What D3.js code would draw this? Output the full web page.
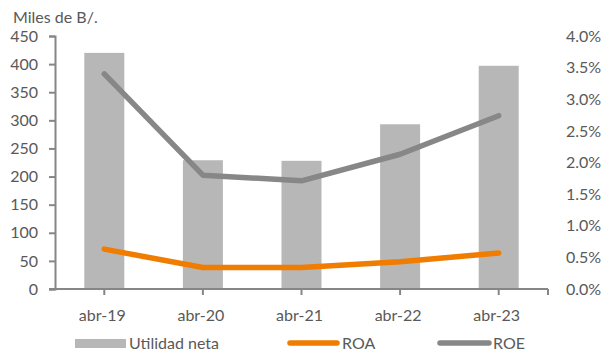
<!DOCTYPE html>
<html><head><meta charset="utf-8">
<script src="https://cdn.jsdelivr.net/npm/d3@7"></script>
<style>
html,body{margin:0;padding:0;background:#fff;}
svg{display:block;font-family:Lato,"Open Sans",sans-serif;}
</style></head>
<body><svg id="c" width="605" height="360"></svg>
<script>
const categories = ["abr-19","abr-20","abr-21","abr-22","abr-23"];
const utilidad = [420, 229, 228, 293, 397];
const roa = [0.0063, 0.0034, 0.0034, 0.0043, 0.0057];
const roe = [0.0340, 0.0180, 0.0171, 0.0213, 0.0274];
const leftTicks = [0,50,100,150,200,250,300,350,400,450];
const rightTicks = [0,0.005,0.01,0.015,0.02,0.025,0.03,0.035,0.04];

const svg = d3.select("#c");
const textColor = "#595959", axisColor = "#868686";
const fs = "16px";
const x0 = 55, x1 = 548, yTop = 36, yBot = 289;
const x = d3.scaleBand().domain(categories).range([x0, x1]).paddingInner(0).paddingOuter(0);
const yL = d3.scaleLinear().domain([0,450]).range([yBot, yTop]);
const yR = d3.scaleLinear().domain([0,0.04]).range([yBot, yTop]);
const barW = 40;

// bars
svg.append("g").selectAll("rect").data(categories).join("rect")
  .attr("x", (d)=> x(d) + x.bandwidth()/2 - barW/2)
  .attr("y", (d,i)=> yL(utilidad[i]))
  .attr("width", barW)
  .attr("height", (d,i)=> yBot - yL(utilidad[i]))
  .attr("fill", "#b7b7b7");

// left axis
const gl = svg.append("g").attr("transform", `translate(${x0},0)`)
  .call(d3.axisLeft(yL).tickValues(leftTicks).tickSize(6).tickPadding(11));
gl.select(".domain").attr("stroke", axisColor).attr("stroke-width", 2);
gl.selectAll(".tick line").attr("stroke", axisColor).attr("stroke-width", 2);
gl.selectAll(".tick text").attr("fill", textColor).style("font-size",fs).style("font-family","Lato");

// right axis (labels only)
const gr = svg.append("g").attr("transform", `translate(${x1+16},0)`)
  .call(d3.axisRight(yR).tickValues(rightTicks).tickSize(0).tickPadding(2).tickFormat(d3.format(".1%")));
gr.select(".domain").remove();
gr.selectAll(".tick text").attr("fill", textColor).style("font-size",fs).style("font-family","Lato");

// x axis
const gx = svg.append("g").attr("transform", `translate(0,${yBot})`);
gx.append("line").attr("x1", x0-6).attr("x2", x1).attr("y1",0).attr("y2",0)
  .attr("stroke", axisColor).attr("stroke-width", 2);
const xTickPos = categories.map(c => x(c) + x.bandwidth()/2).concat([x1]);
gx.selectAll("line.t").data(xTickPos).join("line").attr("class","t")
  .attr("x1", d=>d).attr("x2", d=>d).attr("y1",0).attr("y2",6)
  .attr("stroke", axisColor).attr("stroke-width", 2);
gx.selectAll("text").data(categories).join("text")
  .attr("x", d => x(d) + x.bandwidth()/2 - 2)
  .attr("y", 32)
  .attr("text-anchor","middle")
  .attr("fill", textColor).style("font-size",fs)
  .text(d=>d);

// lines
const lineGen = (arr) => d3.line()
  .x((d,i)=> x(categories[i]) + x.bandwidth()/2)
  .y(d=> yR(d))(arr);
svg.append("path").attr("d", lineGen(roe)).attr("fill","none")
  .attr("stroke","#878787").attr("stroke-width",5.5)
  .attr("stroke-linecap","round").attr("stroke-linejoin","round");
svg.append("path").attr("d", lineGen(roa)).attr("fill","none")
  .attr("stroke","#f07c00").attr("stroke-width",5.5)
  .attr("stroke-linecap","round").attr("stroke-linejoin","round");

// unit label
svg.append("text").attr("x", 13).attr("y", 23).attr("fill", textColor)
  .style("font-size",fs).text("Miles de B/.");

// legend
const ly = 343;
const lg = svg.append("g");
lg.append("rect").attr("x",75).attr("y",ly-4).attr("width",51).attr("height",9).attr("fill","#b7b7b7");
lg.append("text").attr("x",129).attr("y",ly+6).attr("fill",textColor).style("font-size",fs).text("Utilidad neta");
lg.append("line").attr("x1",290).attr("x2",337).attr("y1",ly).attr("y2",ly)
  .attr("stroke","#f07c00").attr("stroke-width",5.5).attr("stroke-linecap","round");
lg.append("text").attr("x",342).attr("y",ly+6).attr("fill",textColor).style("font-size",fs).text("ROA");
lg.append("line").attr("x1",440).attr("x2",489).attr("y1",ly).attr("y2",ly)
  .attr("stroke","#878787").attr("stroke-width",5.5).attr("stroke-linecap","round");
lg.append("text").attr("x",493).attr("y",ly+6).attr("fill",textColor).style("font-size",fs).text("ROE");
</script></body></html>
